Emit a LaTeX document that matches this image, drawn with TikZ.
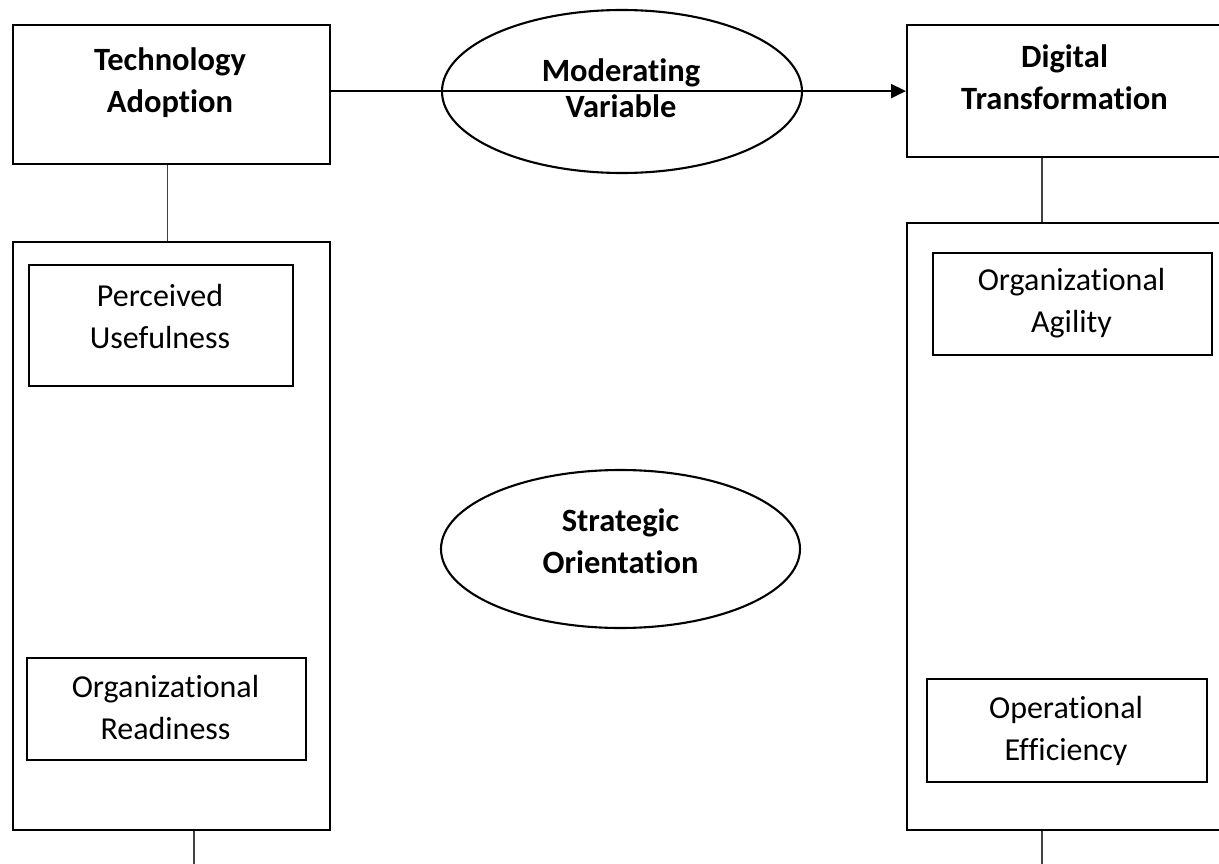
\documentclass[tikz,border=0pt]{standalone}
\usepackage{fontspec}
\setmainfont{Carlito}[Ligatures={NoCommon}]
\usetikzlibrary{shapes.geometric,arrows.meta}
\tikzset{
  frame/.style={draw, rectangle, line width=2.2pt, anchor=north west, inner sep=0pt},
  oval/.style={draw, ellipse, line width=2.1pt, inner sep=0pt},
  head/.style={font=\fontsize{32.5}{42}\selectfont\bfseries, align=center, anchor=base},
  item/.style={font=\fontsize{32}{41.5}\selectfont, align=center, anchor=base},
  link/.style={line width=1.3pt, draw=black!75},
  flow/.style={line width=2pt, -{Triangle[length=15pt,width=14pt]}},
}
\begin{document}
\begin{tikzpicture}[x=1pt,y=-1pt]
  \clip (0,0) rectangle (1219,864);

  % left column: technology adoption and its dimensions
  \node[frame, minimum width=317.5, minimum height=139] (ta) at (11.5,24) {};
  \node[head] (tatext) at (170,113) {Technology\\Adoption};
  \node[frame, minimum width=317, minimum height=588] (lb) at (12,241) {};
  \node[frame, minimum width=264, minimum height=121] (pu) at (28,264) {};
  \node[item] (putext) at (160,348) {Perceived\\Usefulness};
  \node[frame, minimum width=279, minimum height=102] (or) at (26,657) {};
  \node[item] (ortext) at (165.5,739) {Organizational\\Readiness};

  % right column: digital transformation and its outcomes
  \node[frame, minimum width=318, minimum height=132] (dt) at (906,24) {};
  \node[head] (dttext) at (1064.5,110) {Digital\\Transformation};
  \node[frame, minimum width=318, minimum height=607] (rb) at (906,222) {};
  \node[frame, minimum width=279, minimum height=102] (oa) at (932,252) {};
  \node[item] (oatext) at (1071.5,332) {Organizational\\Agility};
  \node[frame, minimum width=280, minimum height=103] (oe) at (926,678) {};
  \node[item] (oetext) at (1066,760) {Operational\\Efficiency};

  % middle: moderator and strategic orientation
  \node[oval, minimum width=360, minimum height=163] (mv) at (622,91.5) {};
  \node[head, font=\fontsize{32.5}{36}\selectfont\bfseries] (mvtext) at (621,118) {Moderating\\Variable};
  \node[oval, minimum width=359, minimum height=158] (so) at (620.5,549) {};
  \node[head] (sotext) at (620.5,573) {Strategic\\Orientation};

  % connectors
  \coordinate (lend) at (194,866);
  \coordinate (rend) at (1042,866);
  \draw[flow] (ta.east |- dt.west) -- (dt.west);
  \draw[link] ([xshift=-4pt]ta.south) -- ([xshift=-4pt]ta.south |- lb.north);
  \draw[link] (dt.south -| rend) -- (rb.north -| rend);
  \draw[link] (lb.south -| lend) -- (lend);
  \draw[link] (rb.south -| rend) -- (rend);
\end{tikzpicture}
\end{document}
